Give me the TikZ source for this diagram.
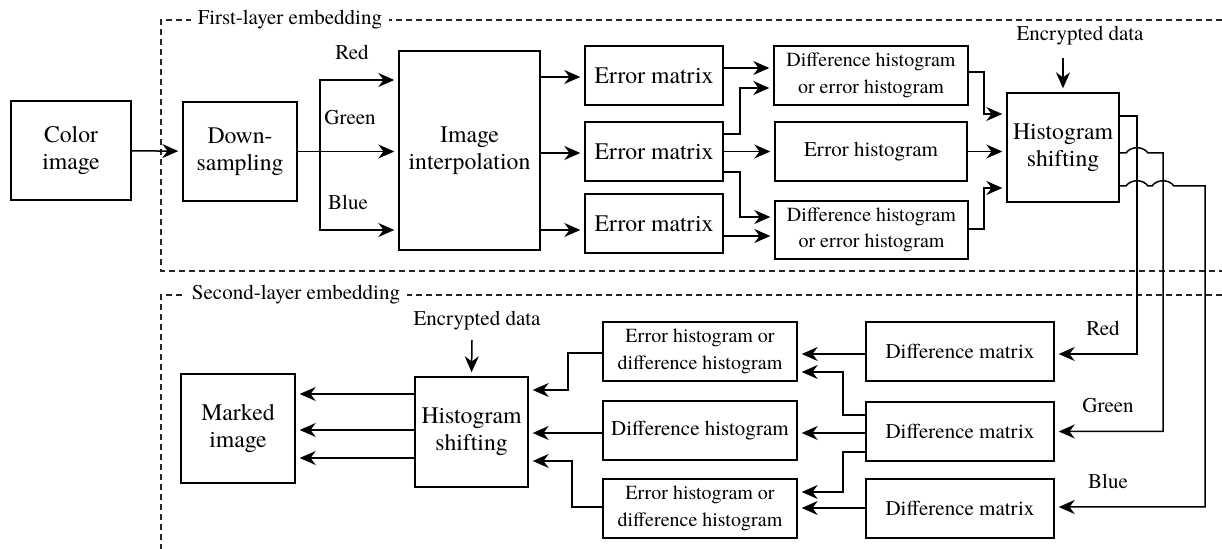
\documentclass[tikz,border=0pt]{standalone}
\usepackage{fontspec}
\setmainfont{TeX Gyre Termes}
\usetikzlibrary{arrows.meta}
\begin{document}
\begin{tikzpicture}[x=0.5pt,y=-0.5pt,
  box/.style={draw, line width=0.7pt, inner sep=0pt, align=center},
  bigtxt/.style={font=\fontsize{11.85}{13.5}\selectfont},
  midtxt/.style={font=\fontsize{10.5}{13}\selectfont},
  smalltxt/.style={font=\fontsize{10}{13.3}\selectfont},
  arr/.style={line width=0.75pt, -{Stealth[length=8pt,width=7pt,inset=2.6pt]}, shorten >=2pt},
  frame/.style={dash pattern=on 3pt off 2pt, line width=0.55pt, black!85},
  lab/.style={inner sep=0pt, font=\fontsize{10.5}{12}\selectfont},
]
\useasboundingbox (0,0) rectangle (1222,549);

% frames
\draw[frame] (1222,20) -- (161,20) -- (161,271) -- (1222,271);
\draw[frame] (1222,295) -- (161,295) -- (161,549);
\node[lab, fill=white, inner xsep=3.5pt, inner ysep=2pt] (t1) at (290,20) {First-layer embedding};
\node[lab, fill=white, inner xsep=3.5pt, inner ysep=2pt] (t2) at (296,295) {Second-layer embedding};

% first layer boxes
\node[box,bigtxt,minimum width=60pt,minimum height=49.5pt] (ci) at (71,150.5) {Color\\image};
\node[box,bigtxt,minimum width=57pt,minimum height=49.5pt] (ds) at (240,151.5) {Down-\\sampling};
\node[box,bigtxt,minimum width=70.5pt,minimum height=99.5pt] (ii) at (469.5,150.5) {Image\\interpolation};
\node[box,bigtxt,minimum width=69pt,minimum height=29.5pt] (em1) at (654,75.5) {Error matrix};
\node[box,bigtxt,minimum width=69pt,minimum height=29.5pt] (em2) at (654,151.5) {Error matrix};
\node[box,bigtxt,minimum width=69pt,minimum height=29.5pt] (em3) at (654,223.5) {Error matrix};
\node[box,smalltxt,minimum width=97pt,minimum height=29.5pt] (dh1) at (871,75.5) {Difference histogram\\or error histogram};
\node[box,midtxt,minimum width=96pt,minimum height=29.5pt] (eh) at (871,151.5) {Error histogram};
\node[box,smalltxt,minimum width=96.5pt,minimum height=29pt] (dh3) at (871.5,230) {Difference histogram\\or error histogram};
\node[box,bigtxt,minimum width=56pt,minimum height=54.5pt] (hs) at (1063,147.5) {Histogram\\shifting};

% second layer boxes
\node[box,bigtxt,minimum width=56.5pt,minimum height=55pt] (hs2) at (471.5,432) {Histogram\\shifting};
\node[box,bigtxt,minimum width=57pt,minimum height=54.5pt] (mi) at (238,428.5) {Marked\\image};
\node[box,smalltxt,minimum width=97pt,minimum height=29.5pt] (b1) at (700,351.5) {Error histogram or\\difference histogram};
\node[box,midtxt,minimum width=97pt,minimum height=29.5pt] (b2) at (700,430.5) {Difference histogram};
\node[box,smalltxt,minimum width=97pt,minimum height=29.5pt] (b3) at (700,508.5) {Error histogram or\\difference histogram};
\node[box,midtxt,minimum width=94pt,minimum height=29.5pt] (dm1) at (960,351.5) {Difference matrix};
\node[box,midtxt,minimum width=94pt,minimum height=29.5pt] (dm2) at (960,431.5) {Difference matrix};
\node[box,midtxt,minimum width=94pt,minimum height=29.5pt] (dm3) at (960,508.5) {Difference matrix};

% labels
\node[lab] (lr1) at (352,52) {Red};
\node[lab] (lg1) at (350,118) {Green};
\node[lab] (lb1) at (348,202) {Blue};
\node[lab] (lr2) at (1103,328) {Red};
\node[lab] (lg2) at (1108,406) {Green};
\node[lab] (lb2) at (1108,481) {Blue};
\node[lab] (enc1) at (1080,36) {Encrypted data};
\node[lab] (enc2) at (477,321) {Encrypted data};
\coordinate (enc1a) at (1063,58);
\coordinate (enc2a) at (472,340);

% first layer connectors
\draw[arr] (ci) -- (ds);
\coordinate (sp) at (320,150.5);
\draw[arr] (ds.east) -- (ii.west |- ds.east);
\draw[arr] (sp) |- (ii.west |- 0,80);
\draw[arr] (sp) |- (ii.west |- 0,230);
\draw[arr] (ii.east |- 0,77) -- (em1.west |- 0,77);
\draw[arr] (ii.east |- 0,153) -- (em2.west |- 0,153);
\draw[arr] (ii.east |- 0,230) -- (em3.west |- 0,230);
\draw[arr] (em1.east |- 0,68) -- (dh1.west |- 0,68);
\draw[arr] (em2.east |- 0,134) -- (740,134) |- (dh1.west |- 0,88);
\draw[arr] (em2.east) -- (eh.west);
\draw[arr] (em2.east |- 0,172) -- (740,172) |- (dh3.west |- 0,217);
\draw[arr] (em3.east |- 0,236) -- (dh3.west |- 0,236);
\draw[arr] (dh1.east |- 0,72) -- (984,72) |- (hs.west |- 0,114);
\draw[arr] (eh.east) -- (hs.west |- eh.east);
\draw[arr] (dh3.east |- 0,229) -- (984,229) |- (hs.west |- 0,188);
\draw[arr] (enc1a) -- (hs.north);

% cross-layer connectors with hops
\draw[arr] (hs.east |- 0,116) -- (1137,116) |- (dm1.east |- 0,354);
\draw[arr] (hs.east |- 0,153) -- (1126,153) .. controls (1131,146) and (1143,146) .. (1148,153) -- (1163,153) |- (dm2.east);
\draw[arr] (hs.east |- 0,186) -- (1126,186) .. controls (1131,179) and (1143,179) .. (1148,186)
  -- (1152,186) .. controls (1157,179) and (1169,179) .. (1174,186) -- (1205,186) |- (dm3.east |- 0,507);

% second layer connectors
\draw[arr] (dm1.west |- 0,354) -- (b1.east |- 0,354);
\draw[arr] (dm2.west |- 0,415) -- (843,415) |- (b1.east |- 0,372);
\draw[arr] (dm2.west |- 0,433) -- (b2.east |- 0,433);
\draw[arr] (dm2.west |- 0,452) -- (843,452) |- (b3.east |- 0,492);
\draw[arr] (dm3.west |- 0,508) -- (b3.east |- 0,508);
\draw[arr] (b1.west |- 0,353) -- (568,353) |- (hs2.east |- 0,390);
\draw[arr] (b2.west |- 0,433) -- (hs2.east |- 0,433);
\draw[arr] (b3.west |- 0,507) -- (572,507) |- (hs2.east |- 0,461);
\draw[arr] (enc2a) -- (hs2.north);
\draw[arr] (hs2.west |- 0,394) -- (mi.east |- 0,394);
\draw[arr] (hs2.west |- 0,430) -- (mi.east |- 0,430);
\draw[arr] (hs2.west |- 0,458) -- (mi.east |- 0,458);
\end{tikzpicture}
\end{document}
